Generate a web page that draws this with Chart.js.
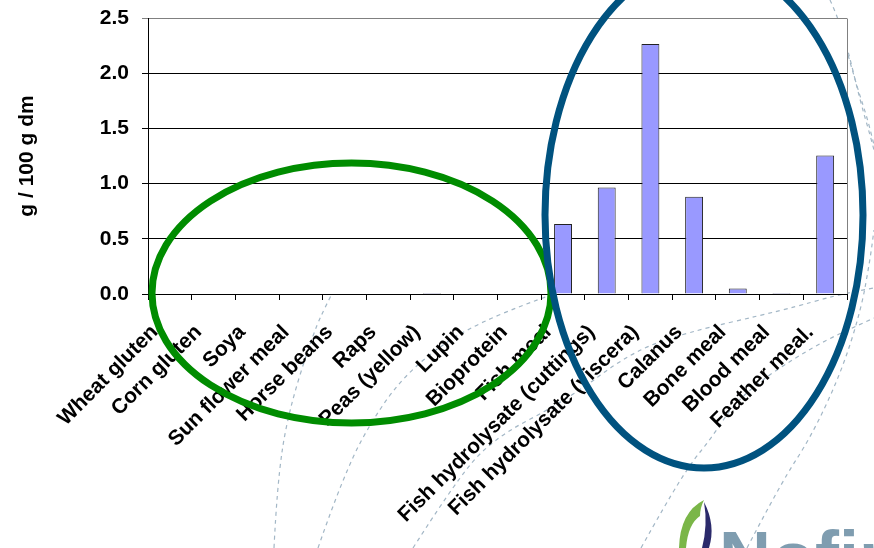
<!DOCTYPE html>
<html><head><meta charset="utf-8">
<script src="https://cdn.jsdelivr.net/npm/chart.js@4.4.1/dist/chart.umd.min.js"></script>
<style>html,body{margin:0;padding:0;background:#fff;overflow:hidden}canvas{display:block}</style>
</head><body>
<canvas id="c" width="874" height="548"></canvas>
<script>
const categories = ['Wheat gluten','Corn gluten','Soya','Sun flower meal','Horse beans','Raps','Peas (yellow)','Lupin','Bioprotein','Fish meal','Fish hydrolysate (cuttings)','Fish hydrolysate (viscera)','Calanus','Bone meal','Blood meal','Feather meal.'];
const values = [0,0,0,0,0,0,0.01,0,0,0.635,0.965,2.265,0.88,0.05,0.01,1.255];
const yTickLabels = ['0.0','0.5','1.0','1.5','2.0','2.5'];
const yAxisTitle = 'g / 100 g dm';
const logoText = 'Nofima';

const FONT = "'Liberation Sans', Arial, sans-serif";

function smooth(ctx, pts){
  ctx.beginPath();
  ctx.moveTo(pts[0][0], pts[0][1]);
  for (let i = 1; i < pts.length - 1; i++) {
    const mx = (pts[i][0] + pts[i+1][0]) / 2, my = (pts[i][1] + pts[i+1][1]) / 2;
    ctx.quadraticCurveTo(pts[i][0], pts[i][1], mx, my);
  }
  const l = pts[pts.length-1];
  ctx.lineTo(l[0], l[1]);
  ctx.stroke();
}

const decor = {
  id: 'decor',
  beforeDraw(chart){
    const ctx = chart.ctx, a = chart.chartArea;
    ctx.save();
    ctx.fillStyle = '#fff';
    ctx.fillRect(0,0,chart.width,chart.height);
    ctx.strokeStyle = '#a3b7c6';
    ctx.lineWidth = 1.2;
    ctx.setLineDash([4,4]);
    const curves = [
      [[274,548],[277,487],[287,417],[313,333],[330,297],[360,240]],
      [[318,548],[345,470],[380,407],[413,367],[463,330],[540,298],[600,280]],
      [[413,548],[450,490],[490,440],[567,400],[630,353],[684,333],[784,310],[837,295],[874,288]],
      [[641,548],[665,505],[691,463],[710,440],[740,395],[811,347],[874,318]],
      [[747,548],[781,483],[811,437],[841,373],[861,310],[870,260],[874,230]],
      [[830,0],[837,15],[848,50],[860,100],[870,135],[874,150]],
      [[848,55],[858,90],[867,117],[874,145]]
    ];
    curves.forEach(c => smooth(ctx, c));
    ctx.setLineDash([]);
    ctx.fillStyle = '#fff';
    ctx.fillRect(a.left, a.top, a.right - a.left, a.bottom - a.top);
    ctx.restore();
  },
  afterDraw(chart){
    const ctx = chart.ctx, a = chart.chartArea;
    ctx.save();
    ctx.strokeStyle = '#808080';
    ctx.lineWidth = 1;
    const rx = Math.round(a.right) + 0.5;
    ctx.beginPath(); ctx.moveTo(rx, Math.round(a.top)+0.5); ctx.lineTo(rx, Math.round(a.bottom)); ctx.stroke();
    ctx.fillStyle = '#7ab648';
    ctx.beginPath();
    ctx.moveTo(679,548);
    ctx.quadraticCurveTo(680,512,704,500);
    ctx.quadraticCurveTo(700,508,700,516);
    ctx.quadraticCurveTo(688,524,686,548);
    ctx.closePath(); ctx.fill();
    ctx.fillStyle = '#2b2a6b';
    ctx.beginPath();
    ctx.moveTo(704,502);
    ctx.quadraticCurveTo(716,525,709,548);
    ctx.lineTo(702,548);
    ctx.quadraticCurveTo(708,525,704,502);
    ctx.closePath(); ctx.fill();
    ctx.fillStyle = '#7f9db0';
    ctx.font = "bold 72px " + FONT;
    ctx.textBaseline = 'alphabetic';
    ctx.textAlign = 'left';
    ctx.fillText(logoText, 719, 582);
    ctx.lineWidth = 7;
    ctx.strokeStyle = '#008c00';
    ctx.beginPath(); ctx.ellipse(351.5, 293, 199.5, 130, 0, 0, Math.PI*2); ctx.stroke();
    ctx.strokeStyle = '#00527f';
    ctx.beginPath(); ctx.ellipse(704, 215, 159, 253, 0, 0, Math.PI*2); ctx.stroke();
    ctx.restore();
  }
};

new Chart(document.getElementById('c'), {
  type: 'bar',
  data: {
    labels: categories,
    datasets: [{
      data: values,
      backgroundColor: '#9999ff',
      borderColor: '#222',
      borderWidth: 1,
      borderSkipped: 'bottom',
      categoryPercentage: 1,
      barPercentage: 0.41
    }]
  },
  options: {
    responsive: false,
    devicePixelRatio: 1,
    animation: false,
    layout: { padding: { left: 11, right: 27, top: 18, bottom: 0 } },
    plugins: { legend: { display: false }, tooltip: { enabled: false } },
    scales: {
      x: {
        offset: true,
        grid: { drawOnChartArea: false, drawTicks: true, tickLength: 6, color: '#000', offset: true },
        border: { color: '#000', width: 1 },
        ticks: {
          autoSkip: false, minRotation: 45, maxRotation: 45, padding: 20, labelOffset: -15,
          color: '#000', font: { family: FONT, size: 21, weight: 'bold' }
        },
        afterFit(s){ s.height = 254; s.paddingLeft = 0; s.paddingRight = 0; }
      },
      y: {
        min: 0, max: 2.5,
        grid: {
          color: c => (c.tick && c.tick.value === 2.5) ? '#808080' : '#000',
          tickLength: 6, lineWidth: 1
        },
        border: { color: '#000', width: 1 },
        ticks: {
          stepSize: 0.5, padding: 13, color: '#000',
          font: { family: FONT, size: 21, weight: 'bold' },
          callback: (v, i) => yTickLabels[i]
        },
        title: {
          display: true, text: yAxisTitle, color: '#000',
          font: { family: FONT, size: 21, weight: 'bold' }
        },
        afterFit(s){ s.width = 137; s.paddingTop = 0; s.paddingBottom = 0; }
      }
    }
  },
  plugins: [decor]
});
</script>
</body></html>
